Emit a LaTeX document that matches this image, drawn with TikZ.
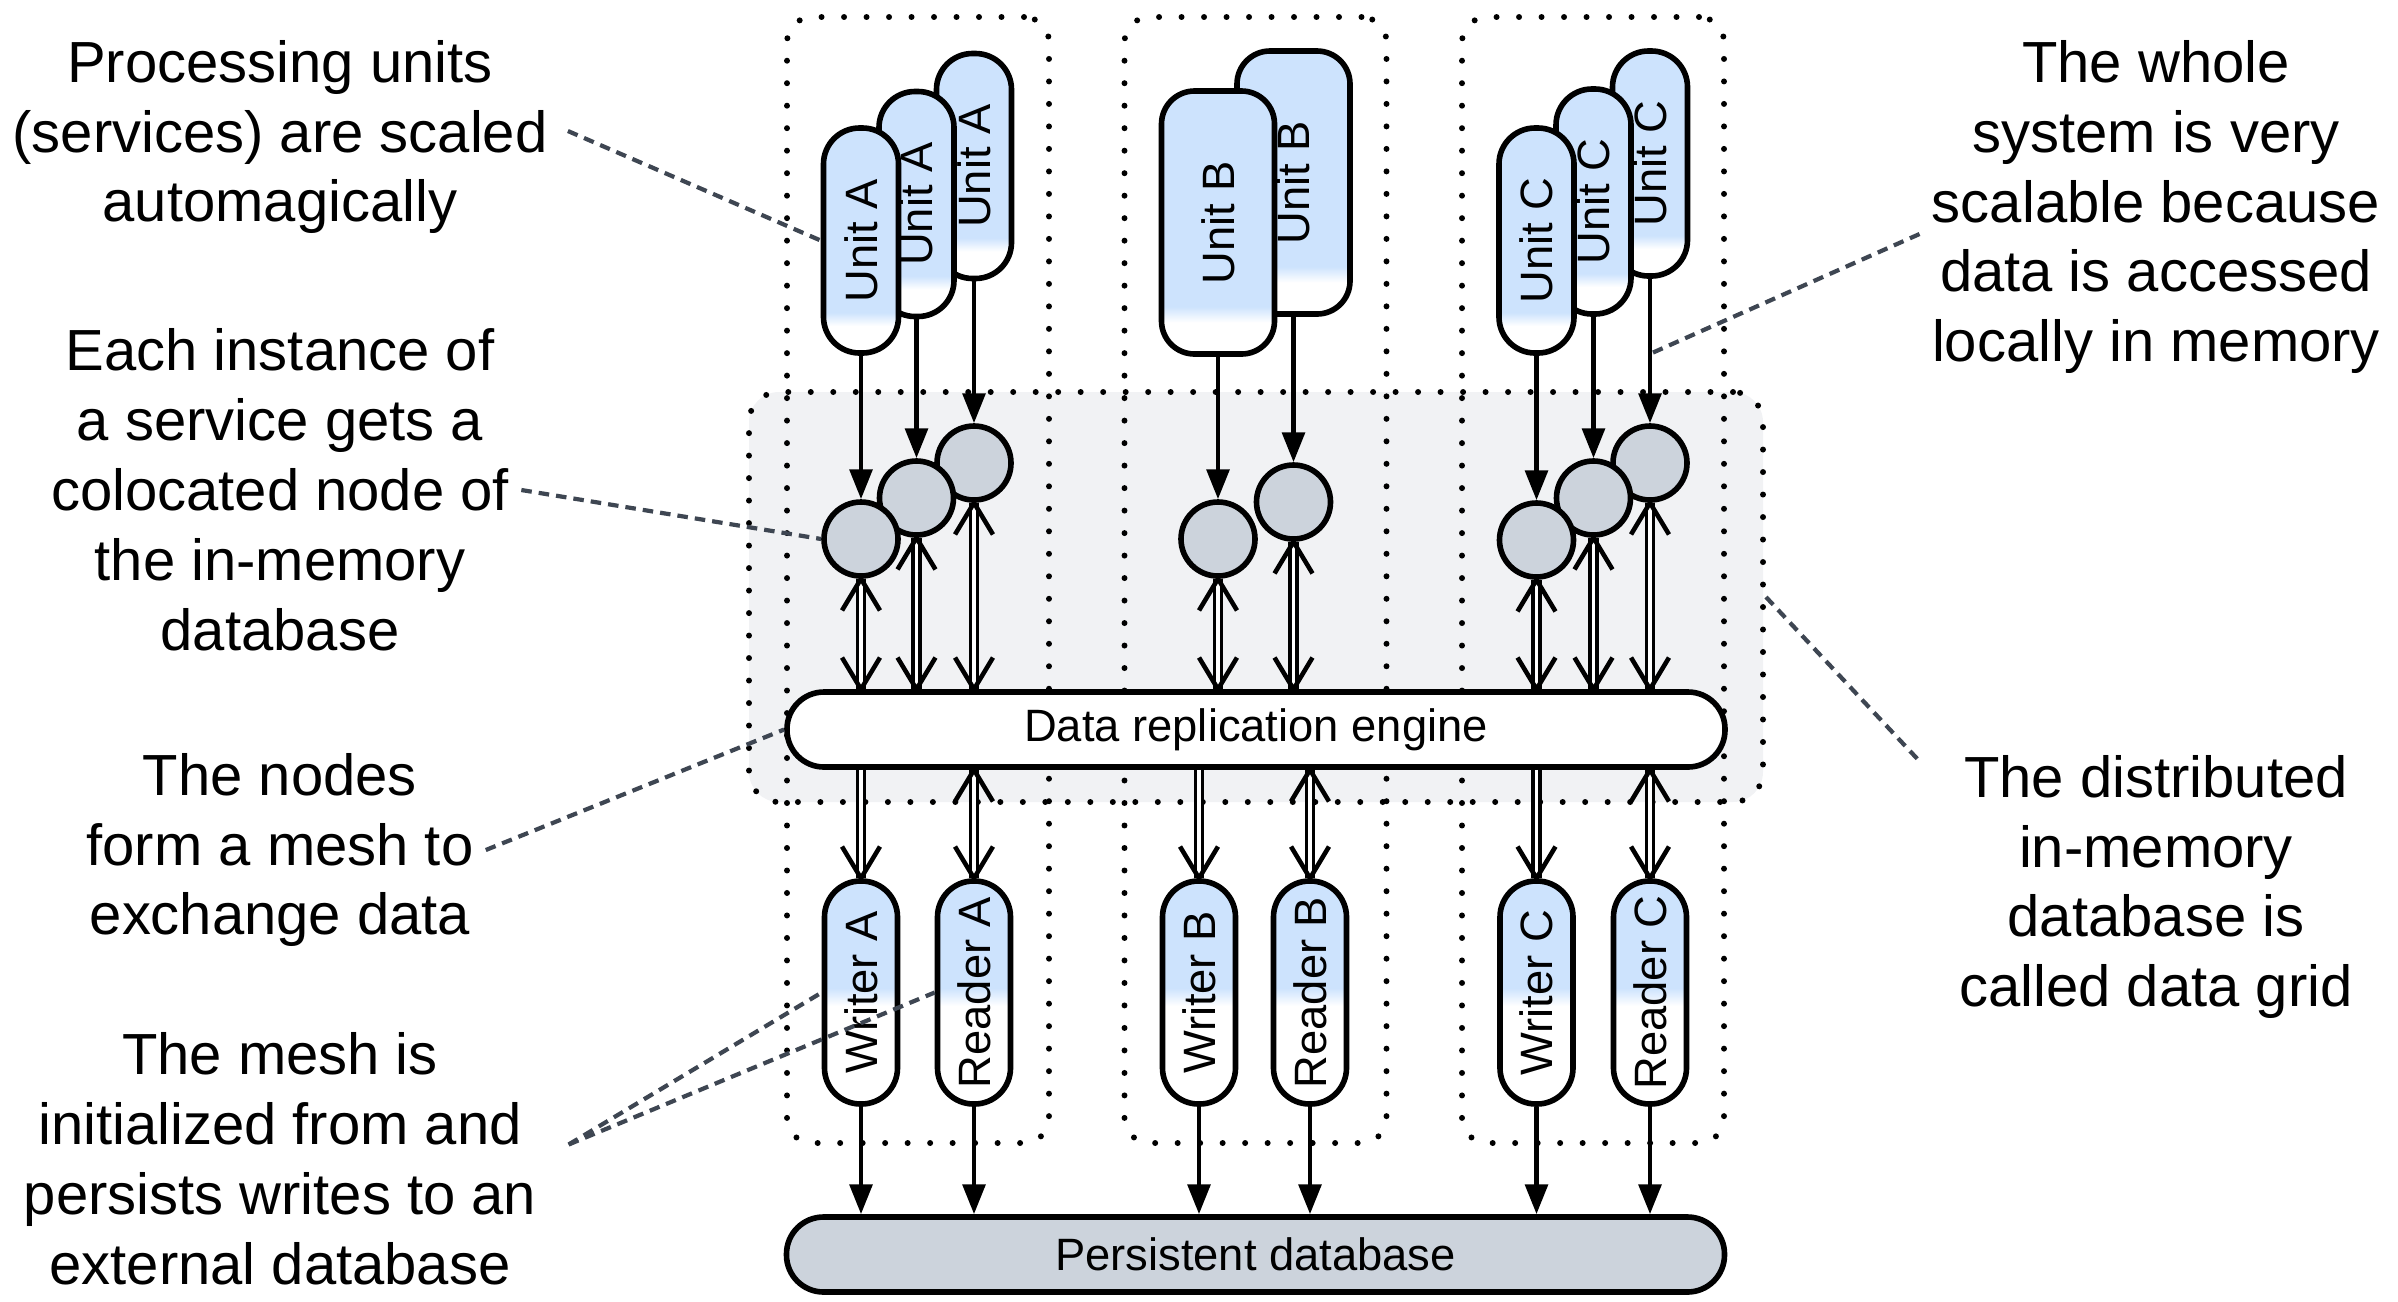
\documentclass[tikz,border=0pt]{standalone}
\usepackage{fontspec}
\setmainfont{Liberation Sans}
\usepackage{graphicx}
\usetikzlibrary{arrows.meta,calc}

\definecolor{unitblue}{HTML}{CDE3FD}
\definecolor{nodegray}{HTML}{CCD3DC}
\definecolor{gridgray}{HTML}{F1F2F4}
\definecolor{notegray}{HTML}{3E4652}

\pgfdeclareverticalshading{unitshade}{100bp}{color(0bp)=(white); color(31bp)=(white); color(34bp)=(unitblue); color(100bp)=(unitblue)}
\pgfdeclareverticalshading{ioshade}{100bp}{color(0bp)=(white); color(47bp)=(white); color(51bp)=(unitblue); color(100bp)=(unitblue)}

\tikzset{
  unit/.style={draw, line width=1.6pt, rounded corners=3.6mm, minimum width=7.5mm, minimum height=22.5mm, inner sep=0pt, shade, shading=unitshade, font=\fontsize{12.9}{15}\selectfont},
  bigunit/.style={unit, rounded corners=3.3mm, minimum width=11.3mm, minimum height=26.3mm},
  io/.style={unit, shading=ioshade, minimum width=7.3mm, minimum height=22.3mm},
  dbnode/.style={draw, line width=1.6pt, circle, minimum size=7.4mm, fill=nodegray},
  bar/.style={draw, line width=1.6pt, rounded corners=3.7mm, minimum width=9.38cm, minimum height=7.5mm, font=\fontsize{12.9}{15}\selectfont},
  colbox/.style={draw, line width=1.7pt, dash pattern=on 0pt off 6.4pt, line cap=round, rounded corners=2.5mm},
  gridbox/.style={colbox, fill=gridgray, rounded corners=3mm},
  note/.style={align=center, font=\fontsize{16.5}{19.9}\selectfont},
  notelink/.style={draw=notegray, line width=1.2pt, dash pattern=on 3pt off 2pt},
  flow/.style={line width=1.3pt, -{Triangle[length=8.5pt,width=6.4pt]}},
  chevs/.style={line width=1.3pt},
  dbl/.style={double, double distance=1pt, line width=1pt},
  chevup/.pic={\draw[chevs] (-5.4pt,-9pt) -- (0,0) -- (5.4pt,-9pt);},
  chevdown/.pic={\draw[chevs] (-5.4pt,9pt) -- (0,0) -- (5.4pt,9pt);}
}

\begin{document}
\begin{tikzpicture}
    \useasboundingbox (0,0) rectangle (23.98,-13.01);

    % data grid and the three columns
    \node[gridbox, minimum width=10.14cm, minimum height=4.10cm] (grid) at (12.56,-5.97) {};
    \foreach \x/\n in {9.18/cola, 12.555/colb, 15.93/colc}
        \node[colbox, minimum width=2.62cm, minimum height=11.26cm] (\n) at (\x,-5.80) {};

    % processing units
    \node[unit] (ua3) at (9.74,-1.66) {\rotatebox{90}{Unit A}};
    \node[unit] (ua2) at (9.165,-2.04) {\rotatebox{90}{Unit A}};
    \node[unit] (ua1) at (8.61,-2.405) {\rotatebox{90}{Unit A}};
    \node[bigunit] (ub2) at (12.935,-1.825) {\rotatebox{90}{Unit B}};
    \node[bigunit] (ub1) at (12.18,-2.225) {\rotatebox{90}{Unit B}};
    \node[unit] (uc3) at (16.5,-1.635) {\rotatebox{90}{Unit C}};
    \node[unit] (uc2) at (15.935,-2.015) {\rotatebox{90}{Unit C}};
    \node[unit] (uc1) at (15.365,-2.405) {\rotatebox{90}{Unit C}};

    % in-memory nodes
    \node[dbnode] (ca3) at (9.74,-4.63) {};
    \node[dbnode] (ca2) at (9.165,-4.98) {};
    \node[dbnode] (ca1) at (8.61,-5.39) {};
    \node[dbnode] (cb2) at (12.935,-5.02) {};
    \node[dbnode] (cb1) at (12.18,-5.39) {};
    \node[dbnode] (cc3) at (16.5,-4.63) {};
    \node[dbnode] (cc2) at (15.935,-4.98) {};
    \node[dbnode] (cc1) at (15.365,-5.40) {};

    \node[bar, fill=white] (eng) at (12.56,-7.295) {Data replication engine};
    \node[bar, fill=nodegray] (pdb) at (12.555,-12.545) {Persistent database};

    % writers and readers
    \foreach \n/\x/\t in {wa/8.61/Writer A, ra/9.74/Reader A, wb/11.99/Writer B, rb/13.10/Reader B, wc/15.365/Writer C, rc/16.5/Reader C}
        \node[io] (\n) at (\x,-9.925) {\rotatebox{90}{\t}};

    % connectors
    \foreach \u/\c in {ua1/ca1, ua2/ca2, ua3/ca3, ub1/cb1, ub2/cb2, uc1/cc1, uc2/cc2, uc3/cc3}
        \draw[flow] (\u.south) -- (\c.north);
    \foreach \c in {ca1, ca2, ca3, cb1, cb2, cc1, cc2, cc3} {
        \draw[dbl] (\c.south) -- (\c.south |- eng.north);
        \pic at (\c.south) {chevup};
        \pic at (\c.south |- eng.north) {chevdown};
    }
    \foreach \w in {wa, wb, wc} {
        \draw[dbl] (eng.south -| \w.north) -- (\w.north);
        \pic at (\w.north) {chevdown};
    }
    \foreach \r in {ra, rb, rc} {
        \draw[dbl] (eng.south -| \r.north) -- (\r.north);
        \pic at (eng.south -| \r.north) {chevup};
        \pic at (\r.north) {chevdown};
    }
    \foreach \w in {wa, ra, wb, rb, wc, rc}
        \draw[flow] (\w.south) -- (\w.south |- pdb.north);

    % notes
    \node[note] (t1) at (2.80,-1.37) {Processing units\\(services) are scaled\\automagically};
    \node[note] (t2) at (2.80,-4.90) {Each instance of\\a service gets a\\colocated node of\\the in-memory\\database};
    \node[note] (t3) at (2.80,-8.50) {The nodes\\form a mesh to\\exchange data};
    \node[note] (t4) at (2.80,-11.585) {The mesh is\\initialized from and\\persists writes to an\\external database};
    \node[note] (t5) at (21.56,-2.07) {The whole\\system is very\\scalable because\\data is accessed\\locally in memory};
    \node[note] (t6) at (21.56,-8.87) {The distributed\\in-memory\\database is\\called data grid};

    \draw[notelink] ([xshift=0.8mm,yshift=0.6mm]t1.east) -- (ua1.west);
    \draw[notelink] (t2.east) -- (ca1.west);
    \draw[notelink] (t3.east) -- (eng.west);
    \draw[notelink] ([xshift=2mm,yshift=1.4mm]t4.east) -- (wa.west);
    \draw[notelink] ([xshift=2mm,yshift=1.4mm]t4.east) -- (ra.west);
    \draw[notelink] ([yshift=-2.7mm]t5.west) -- ($(uc3.south)!.52!(cc3.north)$);
    \draw[notelink] (grid.east) -- ([xshift=-2.7mm,yshift=-1.9mm]t6.north west);
\end{tikzpicture}
\end{document}
